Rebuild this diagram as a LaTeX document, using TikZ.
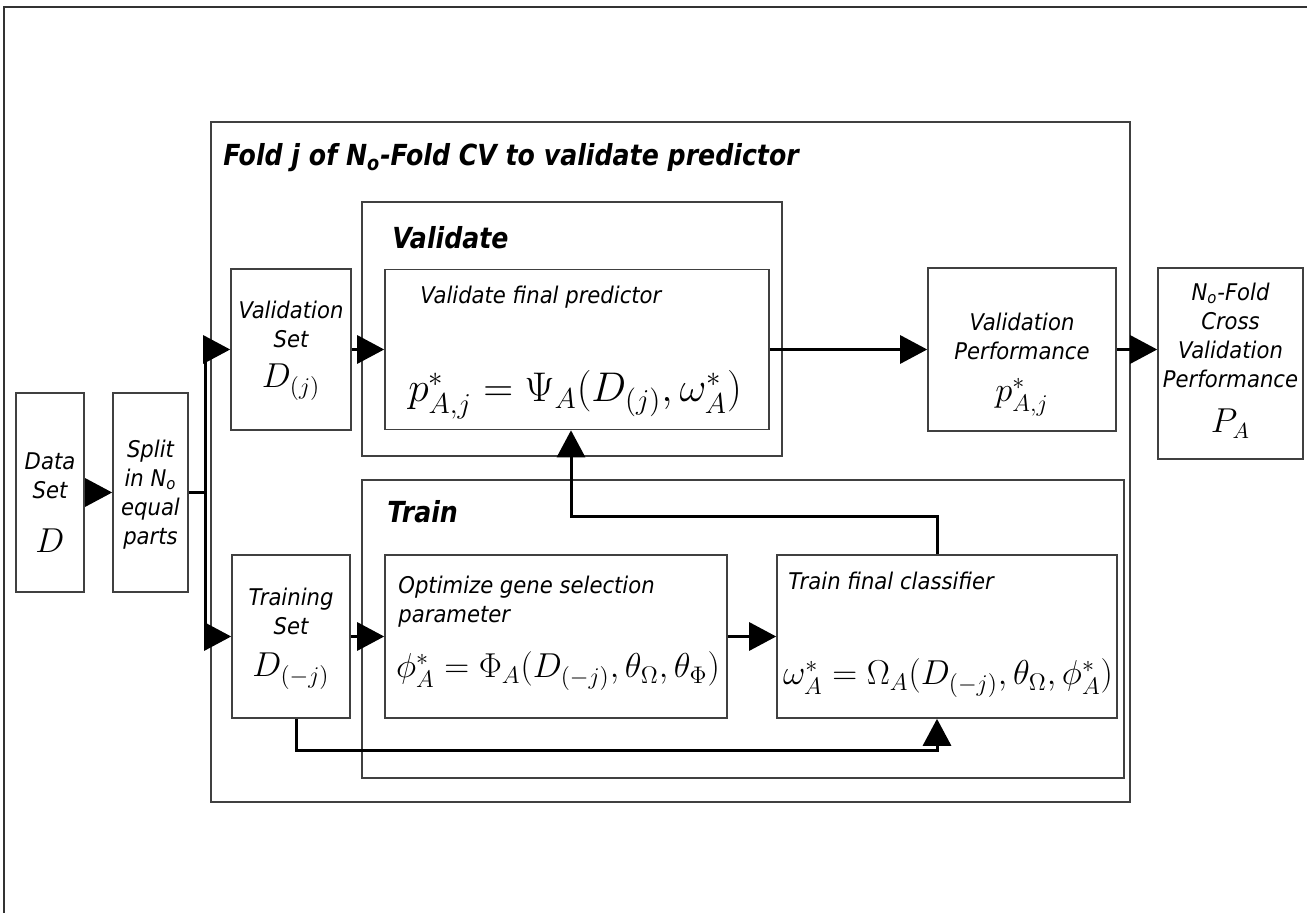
\documentclass[tikz,border=0pt]{standalone}
\usepackage{amsmath}
\usepackage[no-math]{fontspec}
\setmainfont{DejaVu Sans}[FakeStretch=0.92]
\newfontfamily\headfont{DejaVu Sans}[FakeStretch=0.87]
\usepackage{tikz}
\usetikzlibrary{arrows.meta}

\tikzset{
  box/.style={draw=black!75, line width=0.8pt, inner sep=0pt},
  wire/.style={line width=1.5pt},
  conn/.style={wire, -{Triangle[length=13.5pt,width=14pt]}},
  txt/.style={inner sep=0pt, align=center, font=\fontsize{11.5}{14.5}\selectfont\itshape},
  head/.style={inner sep=0pt, font=\headfont\fontsize{14.5}{17}\selectfont\bfseries\itshape},
  mth/.style={inner sep=0pt, font=\fontsize{16.5}{19}\selectfont},
}

\begin{document}
\begin{tikzpicture}[x=0.5pt,y=0.5pt,yscale=-1,xscale=1]
\useasboundingbox (0,0) rectangle (1307,913);

%Straight Lines [page frame]
\draw[line width=0.6pt, black!80] (4,913) -- (4,7) -- (1307,7);

%Shape: Rectangle [fold j]
\node[box, minimum width=459.5pt, minimum height=340pt] (fold) at (670.5,462) {};
%Shape: Rectangle [validate]
\node[box, minimum width=210pt, minimum height=127pt] (validate) at (572,329) {};
%Shape: Rectangle [train]
\node[box, minimum width=381pt, minimum height=149pt] (train) at (743,629) {};

%Shape: Rectangle [data set]
\node[box, minimum width=34pt, minimum height=99.5pt] (data) at (50,492.5) {};
%Shape: Rectangle [split]
\node[box, minimum width=37.5pt, minimum height=99.5pt] (split) at (150.5,492.5) {};
%Shape: Rectangle [validation set]
\node[box, minimum width=60pt, minimum height=80.5pt] (valset) at (291,349.5) {};
%Shape: Rectangle [training set]
\node[box, minimum width=59pt, minimum height=81.5pt] (trainset) at (291,636.5) {};
%Shape: Rectangle [final predictor]
\node[box, minimum width=192pt, minimum height=80pt] (pred) at (577,349.5) {};
%Shape: Rectangle [gene selection]
\node[box, minimum width=171pt, minimum height=81.5pt] (opt) at (556,636.5) {};
%Shape: Rectangle [final classifier]
\node[box, minimum width=170pt, minimum height=81.5pt] (cls) at (947,636.5) {};
%Shape: Rectangle [validation performance]
\node[box, minimum width=94pt, minimum height=81.5pt] (vperf) at (1022,349.5) {};
%Shape: Rectangle [cv performance]
\node[box, minimum width=72.5pt, minimum height=95.5pt] (cvperf) at (1230.5,363.5) {};

% Text Node
\node[head, anchor=base west] (foldlbl) at (223,166) {Fold j of N\textsubscript{o}-Fold CV to validate predictor};
% Text Node
\node[head, anchor=base west] (validatelbl) at (392,249) {Validate};
% Text Node
\node[head, anchor=base west] (trainlbl) at (387,523) {Train};

% Text Node
\node[txt, anchor=north] (datatxt) at (50,452.5) {Data\\Set};
\node[mth, font=\fontsize{19}{22}\selectfont, anchor=base] (datamath) at (50,553) {$D$};
% Text Node
\node[txt, anchor=north] (splittxt) at (150.5,439.5) {Split\\in N\textsubscript{o}\\equal\\parts};
% Text Node
\node[txt, anchor=north] (valsettxt) at (291,300.5) {Validation\\Set};
\node[mth, anchor=base] (valsetmath) at (291,388) {$D_{(j)}$};
% Text Node
\node[txt, anchor=north] (trainsettxt) at (291,587.5) {Training\\Set};
\node[mth, anchor=base] (trainsetmath) at (291,677) {$D_{(-j)}$};
% Text Node
\node[txt, anchor=base west] (predtxt) at (420,304) {Validate final predictor};
\node[mth, font=\fontsize{22.5}{26}\selectfont, anchor=base] (predmath) at (575,402)
  {$p^{*}_{A,j}=\Psi_{A}(D_{(j)},\omega^{*}_{A})$};
% Text Node
\node[txt, align=left, anchor=north west] (opttxt) at (398,575.5) {Optimize gene selection\\parameter};
\node[mth, font=\fontsize{17.3}{20}\selectfont, anchor=base] (optmath) at (558,678)
  {$\phi^{*}_{A}=\Phi_{A}(D_{(-j)},\theta_{\Omega},\theta_{\Phi})$};
% Text Node
\node[txt, anchor=base west] (clstxt) at (788,590) {Train final classifier};
\node[mth, font=\fontsize{16.6}{19}\selectfont, anchor=base] (clsmath) at (948,685)
  {$\omega^{*}_{A}=\Omega_{A}(D_{(-j)},\theta_{\Omega},\phi^{*}_{A})$};
% Text Node
\node[txt, anchor=north] (vperftxt) at (1022,312.5) {Validation\\Performance};
\node[mth, anchor=base] (vperfmath) at (1022,402) {$p^{*}_{A,j}$};
% Text Node
\node[txt, anchor=north] (cvperftxt) at (1230.5,282.5) {N\textsubscript{o}-Fold\\Cross\\Validation\\Performance};
\node[mth, font=\fontsize{16}{19}\selectfont, anchor=base] (cvperfmath) at (1230.5,433) {$P_{A}$};

%Connectors
\coordinate (fork) at (205,492.5);
\draw[conn] (data) -- (split);
\draw[wire] (split.east) -- (fork);
\draw[conn] (fork) |- (valset.west);
\draw[conn] (fork) |- (trainset.west);
\draw[conn] (valset) -- (pred);
\draw[conn] (pred) -- (vperf);
\draw[conn] (vperf.east) -- (vperf.east -| cvperf.west);
\draw[conn] (trainset) -- (opt);
\draw[conn] (opt) -- (cls);
\draw[conn] ([xshift=-5pt]cls.north) -- ++(0,-19pt) -| ([xshift=-3pt]pred.south);
\draw[conn] ([xshift=2.5pt]trainset.south) |- ([xshift=-5pt,yshift=16pt]cls.south) -- ([xshift=-5pt]cls.south);

\end{tikzpicture}
\end{document}
